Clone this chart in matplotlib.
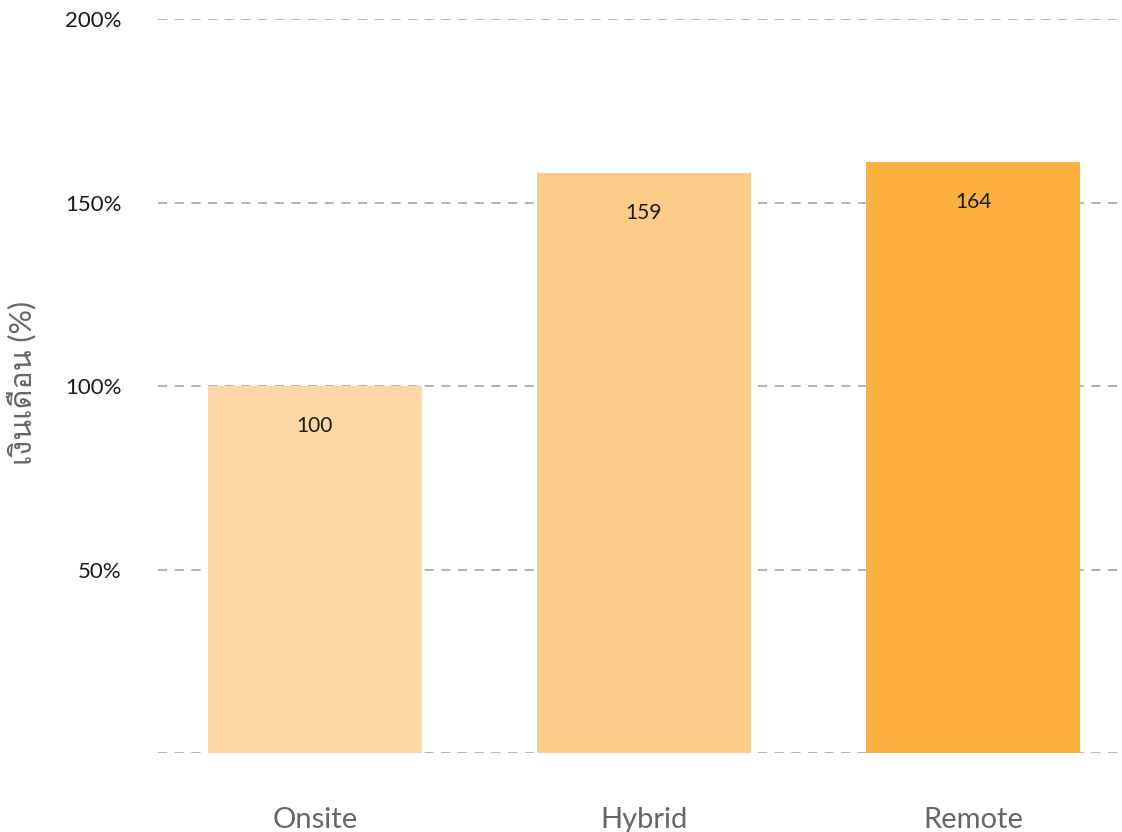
import matplotlib
matplotlib.use('Agg')
import matplotlib.pyplot as plt
from matplotlib import font_manager
from matplotlib.ft2font import FT2Font

# data
categories = ['Onsite', 'Hybrid', 'Remote']
bar_heights = [100, 158, 161]          # bar tops as measured on the y scale
bar_labels = ['100', '159', '164']     # numbers printed inside the bars
bar_colors = ['#FBD7A4', '#FBCC87', '#FBB040']
y_ticks = [0, 50, 100, 150, 200]
y_tick_labels = ['', '50%', '100%', '150%', '200%']
y_title = 'เงินเดือน (%)'


# find an installed font that can draw Thai, if there is one
def find_thai_font():
    for f in font_manager.fontManager.ttflist:
        try:
            if 0x0E07 in FT2Font(f.fname).get_charmap():
                return f.name
        except Exception:
            pass
    return None


thai = find_thai_font()
families = ['Lato', 'DejaVu Sans']
if thai:
    families = ['Lato', thai, 'DejaVu Sans']
plt.rcParams['font.family'] = families

fig = plt.figure(figsize=(11.22, 8.32), dpi=100)
ax = fig.add_axes([158 / 1122, 79 / 832, 1 - 158 / 1122, (753 - 19) / 832])

x = range(len(categories))
bars = ax.bar(x, bar_heights, width=0.65, color=bar_colors, zorder=2)

for rect, lab in zip(bars, bar_labels):
    ax.annotate(lab, (rect.get_x() + rect.get_width() / 2, rect.get_height()),
                xytext=(0, -29), textcoords='offset points',
                ha='center', va='center', fontsize=15, color='#1a1a1a', zorder=3)

ax.set_xlim(-0.477, 2.453)
ax.set_ylim(0, 200)
ax.set_yticks(y_ticks)
ax.set_yticklabels(y_tick_labels)
ax.set_xticks(list(x))
ax.set_xticklabels(categories)

ax.yaxis.grid(True, color='#a6a6a6', linewidth=1.2, linestyle=(0, (5.5, 4.5)), zorder=0)
ax.set_axisbelow(True)
for s in ax.spines.values():
    s.set_visible(False)

ax.tick_params(axis='y', length=0, pad=26, labelsize=16, labelcolor='#1a1a1a')
ax.tick_params(axis='x', length=0, pad=39, labelsize=21, labelcolor='#666666')

fig.text(22 / 1122, 1 - 383 / 832, y_title, rotation=90, ha='center', va='center',
         fontsize=22, color='#666666')

fig.savefig('out.png', dpi=100)
